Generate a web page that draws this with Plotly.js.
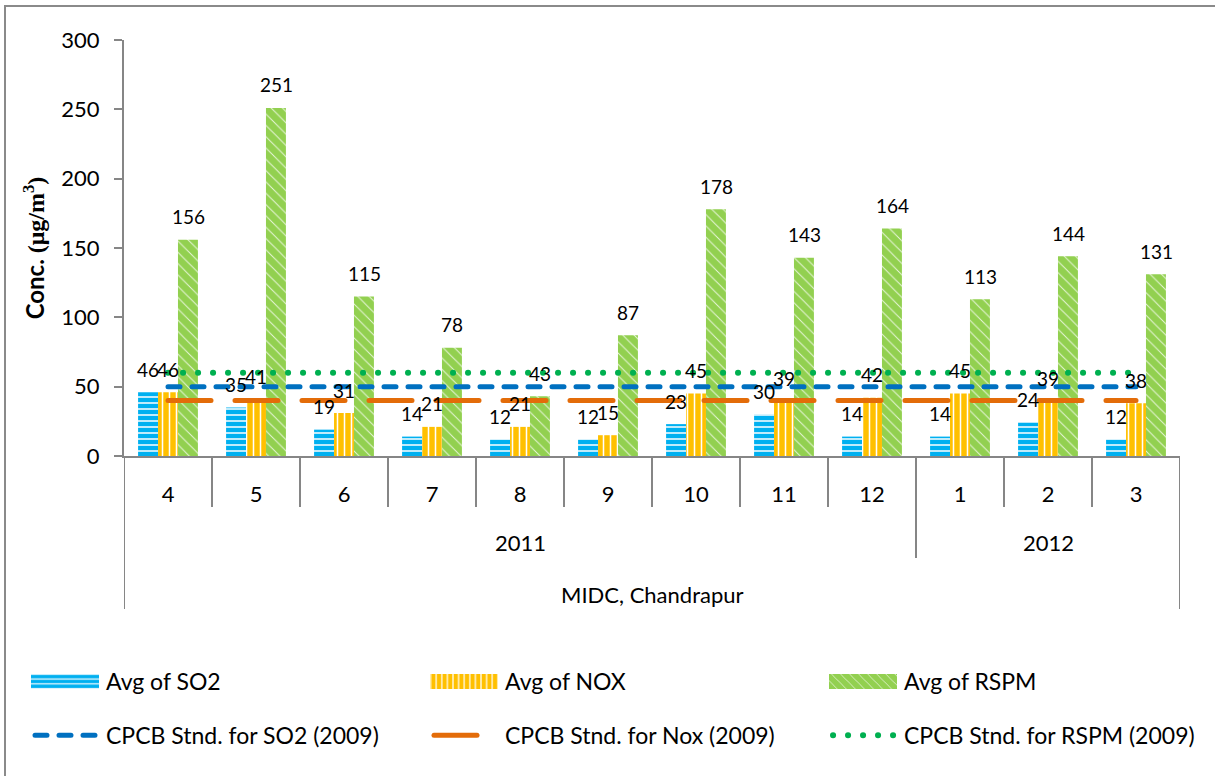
<!DOCTYPE html>
<html><head><meta charset="utf-8">
<script src="https://cdn.plot.ly/plotly-3.0.1.min.js"></script>
<style>
html,body{margin:0;padding:0;overflow:hidden;background:#fff;}
#chart{width:1215px;height:776px;}
#frame{position:absolute;left:4px;top:5px;width:1400px;height:1000px;border:2px solid #8a8a8a;pointer-events:none;}
.scatterlayer .js-line, .legendlines .js-line{stroke-linecap:round;}
.legendpoints path.legendbar, .legendpoints path.legendundefined{d:path("M31,7.5H-37V-7.5H31Z");}
</style></head><body>
<div id="chart"></div><div id="frame"></div>
<script>
// ---- data ----
const months = ["4","5","6","7","8","9","10","11","12","1","2","3"];
const years  = ["2011","2011","2011","2011","2011","2011","2011","2011","2011","2012","2012","2012"];
const site   = "MIDC, Chandrapur";
const so2  = [46,35,19,14,12,12,23,30,14,14,24,12];
const nox  = [46,41,31,21,21,15,45,39,42,45,39,38];
const rspm = [156,251,115,78,43,87,178,143,164,113,144,131];
const stdSO2 = 50, stdNOx = 40, stdRSPM = 60;
const names = ["Avg of SO2","Avg of NOX","Avg of RSPM",
               "CPCB Stnd. for SO2 (2009)","CPCB Stnd. for Nox (2009)","CPCB Stnd. for RSPM (2009)"];

// ---- styling ----
const FONT = "Lato, 'Open Sans', sans-serif";
const AX = "#868686";
const PLOT_H = 416, PLOT_W = 1056, M_L = 124;
const legendCols = ["legend","legend2","legend3"];

const barTraces = [
  {y: so2,  name: names[0], color: "#00B0F0", pattern: {shape: "-", size: 6, solidity: 0.25, fgcolor: "#ffffff", bgcolor: "#00B0F0", fillmode: "replace"}},
  {y: nox,  name: names[1], color: "#FFC000", pattern: {shape: "|", size: 7, solidity: 0.22, fgcolor: "#ffffff", bgcolor: "#FFC000", fillmode: "replace"}},
  {y: rspm, name: names[2], color: "#92D050", pattern: {shape: "\\", size: 8, solidity: 0.12, fgcolor: "#ffffff", fgopacity: 0.8, bgcolor: "#92D050", fillmode: "replace"}}
].map((s, k) => ({
  type: "bar", x: months, y: s.y, name: s.name, legend: legendCols[k], legendgroup: "bars",
  marker: {color: s.color, line: {width: 0}, pattern: s.pattern},
  hoverinfo: "skip"
}));

const lineTraces = [
  {v: stdSO2,  name: names[3], color: "#0070C0", width: 5, dash: "12px,12px"},
  {v: stdNOx,  name: names[4], color: "#E36C09", width: 5, dash: "43px,24px"},
  {v: stdRSPM, name: names[5], color: "#00B050", width: 6, dash: "0.1px,14.9px"}
].map((s, k) => ({
  type: "scatter", mode: "lines", x: months, y: months.map(() => s.v), name: s.name,
  legend: legendCols[k], legendgroup: "lines",
  line: {color: s.color, width: s.width, dash: s.dash}, hoverinfo: "skip"
}));

// data labels
const labelShift = [-20, 0, 20];
const annotations = [];
[so2, nox, rspm].forEach((vals, k) => {
  vals.forEach((v, i) => annotations.push({
    x: i, y: v, xref: "x", yref: "y", text: String(v), showarrow: false,
    xshift: labelShift[k], yshift: 23, yanchor: "middle",
    font: {family: FONT, size: 19, color: "#000"}
  }));
});

// year groups (derived from years array)
const groups = [];
years.forEach((yv, i) => {
  if (!groups.length || groups[groups.length-1].label !== yv) groups.push({label: yv, from: i, to: i});
  else groups[groups.length-1].to = i;
});
groups.forEach(g => annotations.push({
  x: (g.from + g.to) / 2, xref: "x", y: 0, yref: "paper", yshift: -86, yanchor: "middle",
  text: g.label, showarrow: false, font: {family: FONT, size: 22, color: "#000"}
}));
annotations.push({
  x: (months.length - 1) / 2, xref: "x", y: 0, yref: "paper", yshift: -138, yanchor: "middle",
  text: site, showarrow: false, font: {family: FONT, size: 22, color: "#000"}
});

// category dividers
const shapes = [];
for (let i = 0; i <= months.length; i++) {
  let len = 51;
  if (i === 0 || i === months.length) len = 153;
  else if (years[i] !== years[i-1]) len = 102;
  shapes.push({type: "line", xref: "x", yref: "paper", ysizemode: "pixel", yanchor: 0,
    x0: i - 0.5, x1: i - 0.5, y0: 0, y1: -len, line: {color: AX, width: 2}});
}

function legendAt(px) {
  return {orientation: "v", x: (px - M_L) / PLOT_W, xanchor: "left",
    y: (456 - 708.5) / PLOT_H, yanchor: "middle",
    itemwidth: 66, traceorder: "grouped", tracegroupgap: 21,
    font: {family: FONT, size: 23, color: "#000"}, bgcolor: "rgba(0,0,0,0)", borderwidth: 0};
}

const layout = {
  width: 1215, height: 776,
  margin: {l: M_L, r: 35, t: 40, b: 320, autoexpand: false},
  paper_bgcolor: "#fff", plot_bgcolor: "#fff",
  bargap: 0.32, bargroupgap: 0, barmode: "group",
  font: {family: FONT, color: "#000"},
  xaxis: {
    type: "category", categoryorder: "array", categoryarray: months,
    showline: true, linecolor: AX, linewidth: 2, ticks: "", showgrid: false, zeroline: false,
    tickfont: {family: FONT, size: 22, color: "#000"}, ticklabelstandoff: 18,
    range: [-0.5, 11.5]
  },
  yaxis: {
    range: [0, 300], dtick: 50, tick0: 0, showgrid: false, zeroline: false,
    showline: true, linecolor: AX, linewidth: 2, ticks: "outside", ticklen: 8, tickwidth: 2, tickcolor: AX,
    tickfont: {family: FONT, size: 22, color: "#000"}, ticklabelstandoff: 10,
    title: {text: "<b>Conc. <span style=\"font-family:'Liberation Serif','DejaVu Serif',serif\">(μg/m<sup>3</sup>)</span></b>",
            font: {family: FONT, size: 24, color: "#000"}, standoff: 10}
  },
  showlegend: true,
  legend: legendAt(30),
  legend2: legendAt(429),
  legend3: legendAt(828),
  annotations: annotations,
  shapes: shapes
};

Plotly.newPlot("chart", [...barTraces, ...lineTraces], layout, {displayModeBar: false, staticPlot: true});
</script>
</body></html>
